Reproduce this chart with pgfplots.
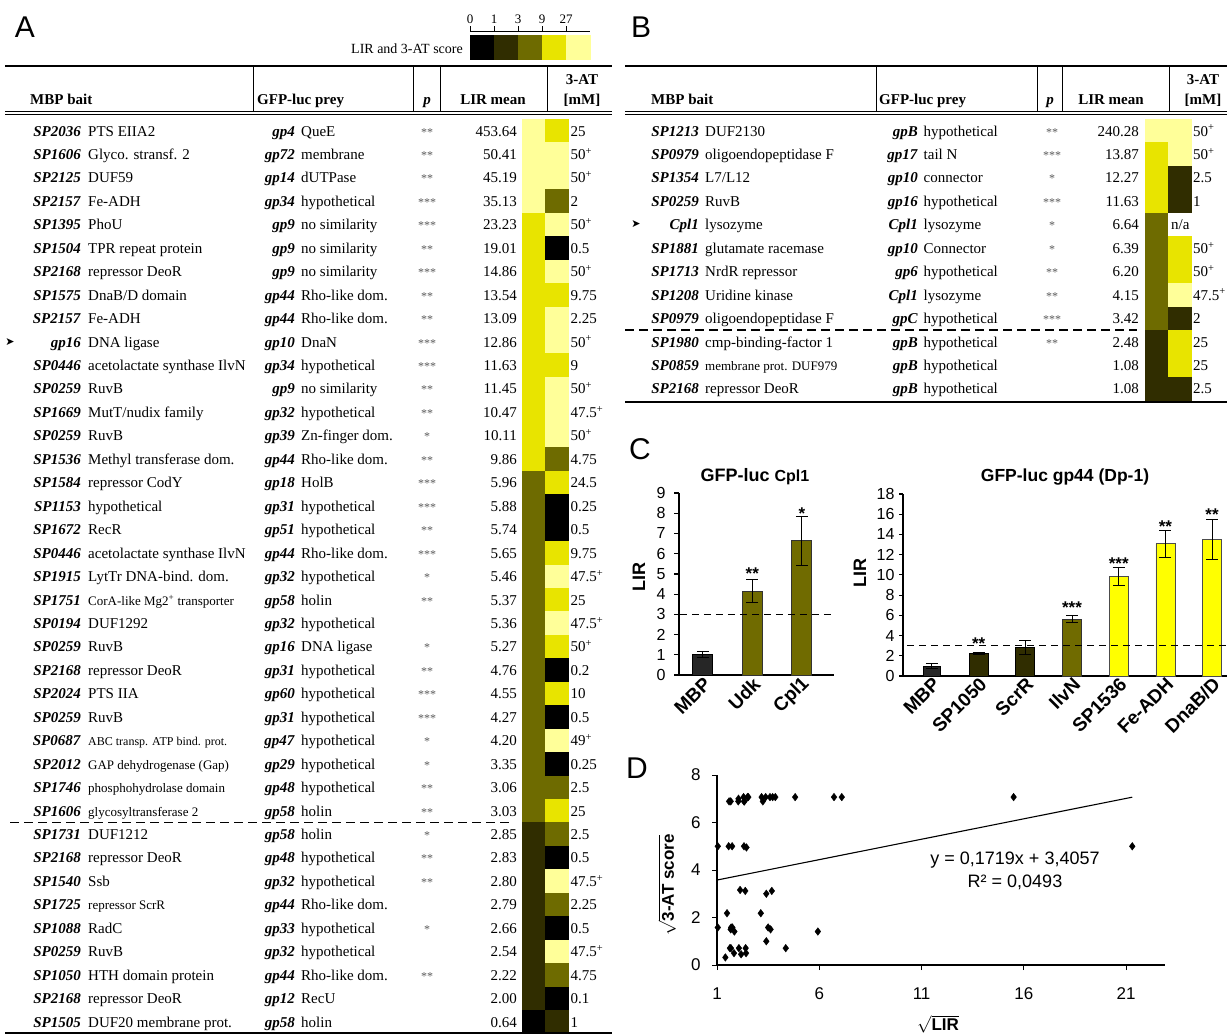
\documentclass[border=0pt]{standalone}
\usepackage{fontspec}
\setmainfont{Liberation Serif}
\newfontfamily\arial{Liberation Sans}
\newfontfamily\dejavu{DejaVu Sans}
\usepackage{pgfplots}
\pgfplotsset{compat=1.18}
\usepackage{pgfplotstable}

\definecolor{hk}{RGB}{0,0,0}
\definecolor{hd}{RGB}{48,45,0}
\definecolor{ho}{RGB}{110,107,0}
\definecolor{hy}{RGB}{232,228,0}
\definecolor{hp}{RGB}{255,255,153}
\definecolor{bary}{RGB}{255,255,0}
\definecolor{barg}{RGB}{38,38,38}
\definecolor{barol}{RGB}{112,107,0}
\definecolor{bardk}{RGB}{48,45,0}

\newcommand{\pl}{\textsuperscript{+}}
\newcommand{\sm}{\fontsize{13}{15}\selectfont}
\newcommand{\ssm}{\fontsize{12}{14}\selectfont}

\newcommand{\Trow}[8]{%
  \pgfmathsetmacro{\yy}{-(130.7+23.45*(#1-1)+5.3)}%
  \node[tt,anchor=base east] at (\cSP pt,\yy pt) {\textbf{\textit{#2}}};%
  \node[tt,anchor=base west] at (\cDE pt,\yy pt) {#3};%
  \node[tt,anchor=base east] at (\cGP pt,\yy pt) {\textbf{\textit{#4}}};%
  \node[tt,anchor=base west] at (\cGD pt,\yy pt) {#5};%
  \node[st,anchor=base] at (\cPP pt,\yy pt) {#6};%
  \node[tt,anchor=base east] at (\cLI pt,\yy pt) {#7};%
  \node[tt,anchor=base west] at (\cAT pt,\yy pt) {#8};%
}

\pgfplotsset{
  heat/.style={scatter, only marks, scatter src=explicit symbolic, mark size=11.5pt,
    scatter/classes={
      k={mark=square*,fill=hk,draw=hk},
      d={mark=square*,fill=hd,draw=hd},
      o={mark=square*,fill=ho,draw=ho},
      y={mark=square*,fill=hy,draw=hy},
      p={mark=square*,fill=hp,draw=hp},
      n={mark=square*,fill=white,draw=white}}},
  errb/.style={error bars/.cd, y dir=both, y explicit,
    error bar style={line width=1pt, black},
    error mark options={rotate=90, mark size=6pt, line width=1pt, black}},
}

% heat map codes: row, LIR class, 3-AT class
\pgfplotstableread{
r lir at
1 p y
2 p p
3 p p
4 p o
5 y p
6 y k
7 y p
8 y y
9 y p
10 y p
11 y y
12 y p
13 y p
14 y p
15 y o
16 o y
17 o k
18 o k
19 o y
20 o p
21 o y
22 o p
23 o y
24 o k
25 o y
26 o k
27 o p
28 o k
29 o o
30 o y
31 d o
32 d k
33 d p
34 d o
35 d k
36 d p
37 d o
38 d k
39 k d
}\tabA

\pgfplotstableread{
r lir at
1 p p
2 y p
3 y d
4 y d
5 o n
6 o y
7 o y
8 o p
9 o d
10 d y
11 d y
12 d d
}\tabB

\pgfplotstableread{
x c
0.5 k
1.5 d
2.5 o
3.5 y
4.5 p
}\tabLeg

% sqrt(LIR), sqrt(3-AT)
\pgfplotstableread{
x y
21.30 5.00
7.10 7.07
6.72 7.07
5.93 1.41
4.82 7.07
4.36 0.71
3.85 7.07
3.68 3.12
3.62 1.50
3.59 7.07
3.41 3.00
3.38 7.07
3.24 6.89
3.18 7.07
3.14 2.18
2.44 4.95
2.42 0.50
2.40 0.71
2.38 3.12
2.34 6.89
2.32 5.00
2.32 6.89
2.30 7.07
2.18 0.45
2.13 3.16
2.07 0.71
2.05 7.00
1.83 0.50
1.75 1.58
1.74 5.00
1.69 1.58
1.68 0.71
1.67 6.89
1.67 1.50
1.63 0.71
1.59 6.89
1.49 2.18
1.41 0.32
15.50 7.07
3.72 7.07
3.50 1.58
3.41 1.00
2.53 7.07
2.49 7.07
2.04 6.89
1.85 1.41
1.57 5.00
1.04 5.00
1.04 1.58
}\tabD

\begin{document}
\begin{tikzpicture}[
  tt/.style={font=\fontsize{15}{18}\selectfont, inner sep=0pt},
  hb/.style={font=\bfseries\fontsize{15}{18}\selectfont, inner sep=0pt},
  st/.style={font=\fontsize{12}{12}\selectfont, text=black!65, inner sep=0pt},
  star/.style={font=\arial\bfseries\fontsize{17}{17}\selectfont, anchor=base, yshift=-9.8pt, inner sep=0pt}]
\useasboundingbox (0,0) rectangle (1227pt,-1034pt);

% ---------------- Panel labels
\node[font=\arial\fontsize{30}{30}\selectfont] at (25pt,-27pt) {A};
\node[font=\arial\fontsize{30}{30}\selectfont] at (641pt,-27pt) {B};
\node[font=\arial\fontsize{30}{30}\selectfont] at (640pt,-449pt) {C};
\node[font=\arial\fontsize{30}{30}\selectfont] at (637pt,-768pt) {D};

% ---------------- Legend of A
\begin{axis}[at={(470pt,-60pt)}, anchor=south west, scale only axis, width=120pt, height=25pt,
  xmin=0, xmax=5, ymin=0, ymax=1, hide axis, clip=false]
\addplot[heat, mark size=12pt] table[x=x, y expr=0.5, meta=c] {\tabLeg};
\end{axis}
\draw[line width=0.8pt] (470pt,-31pt) -- (590pt,-31pt);
\foreach \xx/\lab in {470/0,494/1,518/3,542/9,566/27} {
  \draw[line width=0.8pt] (\xx pt,-31pt) -- (\xx pt,-26pt);
  \node[font=\fontsize{13}{13}\selectfont, anchor=base, inner sep=0pt] at (\xx pt,-23pt) {\lab};
}
\node[font=\fontsize{14}{14}\selectfont, anchor=base east, inner sep=0pt] at (463pt,-53pt) {LIR and 3-AT score};

% ---------------- Table A frame
\draw[line width=2.5pt] (5pt,-66pt) -- (612pt,-66pt);
\draw[line width=1pt] (5pt,-111.5pt) -- (612pt,-111.5pt);
\draw[line width=1pt] (5pt,-114.8pt) -- (612pt,-114.8pt);
\foreach \xx in {253,413,440,547} \draw[line width=1pt] (\xx pt,-67pt) -- (\xx pt,-111pt);
\node[hb,anchor=base west] at (30pt,-104pt) {MBP bait};
\node[hb,anchor=base west] at (257pt,-104pt) {GFP-luc prey};
\node[hb,anchor=base] at (427pt,-104pt) {\textit{p}};
\node[hb,anchor=base] at (493pt,-104pt) {LIR mean};
\node[hb,anchor=base] at (582pt,-84pt) {3-AT};
\node[hb,anchor=base] at (582pt,-104pt) {[mM]};
\draw[line width=1.6pt, dash pattern=on 9pt off 5pt] (10pt,-822.5pt) -- (513pt,-822.5pt);

% heat map A
\begin{axis}[at={(522pt,-1033.5pt)}, anchor=south west, scale only axis, width=46pt, height=914.55pt,
  xmin=0, xmax=2, ymin=0.5, ymax=39.5, y dir=reverse, hide axis, clip=false]
\addplot[heat] table[x expr=0.5, y=r, meta=lir] {\tabA};
\addplot[heat] table[x expr=1.5, y=r, meta=at] {\tabA};
\end{axis}
\draw[line width=2.5pt] (5pt,-1033pt) -- (612pt,-1033pt);

\def\cSP{81}\def\cDE{88}\def\cGP{295}\def\cGD{301}\def\cPP{427}\def\cLI{517}\def\cAT{570.5}
\Trow{1}{SP2036}{PTS EIIA2}{gp4}{QueE}{**}{453.64}{25}
\Trow{2}{SP1606}{Glyco. stransf. 2}{gp72}{membrane}{**}{50.41}{50\pl}
\Trow{3}{SP2125}{DUF59}{gp14}{dUTPase}{**}{45.19}{50\pl}
\Trow{4}{SP2157}{Fe-ADH}{gp34}{hypothetical}{***}{35.13}{2}
\Trow{5}{SP1395}{PhoU}{gp9}{no similarity}{***}{23.23}{50\pl}
\Trow{6}{SP1504}{TPR repeat protein}{gp9}{no similarity}{**}{19.01}{0.5}
\Trow{7}{SP2168}{repressor DeoR}{gp9}{no similarity}{***}{14.86}{50\pl}
\Trow{8}{SP1575}{DnaB/D domain}{gp44}{Rho-like dom.}{**}{13.54}{9.75}
\Trow{9}{SP2157}{Fe-ADH}{gp44}{Rho-like dom.}{**}{13.09}{2.25}
\Trow{10}{gp16}{DNA ligase}{gp10}{DnaN}{***}{12.86}{50\pl}
\Trow{11}{SP0446}{acetolactate synthase IlvN}{gp34}{hypothetical}{***}{11.63}{9}
\Trow{12}{SP0259}{RuvB}{gp9}{no similarity}{**}{11.45}{50\pl}
\Trow{13}{SP1669}{MutT/nudix family}{gp32}{hypothetical}{**}{10.47}{47.5\pl}
\Trow{14}{SP0259}{RuvB}{gp39}{Zn-finger dom.}{*}{10.11}{50\pl}
\Trow{15}{SP1536}{Methyl transferase dom.}{gp44}{Rho-like dom.}{**}{9.86}{4.75}
\Trow{16}{SP1584}{repressor CodY}{gp18}{HolB}{***}{5.96}{24.5}
\Trow{17}{SP1153}{hypothetical}{gp31}{hypothetical}{***}{5.88}{0.25}
\Trow{18}{SP1672}{RecR}{gp51}{hypothetical}{**}{5.74}{0.5}
\Trow{19}{SP0446}{acetolactate synthase IlvN}{gp44}{Rho-like dom.}{***}{5.65}{9.75}
\Trow{20}{SP1915}{LytTr DNA-bind. dom.}{gp32}{hypothetical}{*}{5.46}{47.5\pl}
\Trow{21}{SP1751}{\sm CorA-like Mg2\textsuperscript{+} transporter}{gp58}{holin}{**}{5.37}{25}
\Trow{22}{SP0194}{DUF1292}{gp32}{hypothetical}{}{5.36}{47.5\pl}
\Trow{23}{SP0259}{RuvB}{gp16}{DNA ligase}{*}{5.27}{50\pl}
\Trow{24}{SP2168}{repressor DeoR}{gp31}{hypothetical}{**}{4.76}{0.2}
\Trow{25}{SP2024}{PTS IIA}{gp60}{hypothetical}{***}{4.55}{10}
\Trow{26}{SP0259}{RuvB}{gp31}{hypothetical}{***}{4.27}{0.5}
\Trow{27}{SP0687}{\ssm ABC transp. ATP bind. prot.}{gp47}{hypothetical}{*}{4.20}{49\pl}
\Trow{28}{SP2012}{\sm GAP dehydrogenase (Gap)}{gp29}{hypothetical}{*}{3.35}{0.25}
\Trow{29}{SP1746}{\sm phosphohydrolase domain}{gp48}{hypothetical}{**}{3.06}{2.5}
\Trow{30}{SP1606}{\sm glycosyltransferase 2}{gp58}{holin}{**}{3.03}{25}
\Trow{31}{SP1731}{DUF1212}{gp58}{holin}{*}{2.85}{2.5}
\Trow{32}{SP2168}{repressor DeoR}{gp48}{hypothetical}{**}{2.83}{0.5}
\Trow{33}{SP1540}{Ssb}{gp32}{hypothetical}{**}{2.80}{47.5\pl}
\Trow{34}{SP1725}{\sm repressor ScrR}{gp44}{Rho-like dom.}{}{2.79}{2.25}
\Trow{35}{SP1088}{RadC}{gp33}{hypothetical}{*}{2.66}{0.5}
\Trow{36}{SP0259}{RuvB}{gp32}{hypothetical}{}{2.54}{47.5\pl}
\Trow{37}{SP1050}{HTH domain protein}{gp44}{Rho-like dom.}{**}{2.22}{4.75}
\Trow{38}{SP2168}{repressor DeoR}{gp12}{RecU}{}{2.00}{0.1}
\Trow{39}{SP1505}{DUF20 membrane prot.}{gp58}{holin}{}{0.64}{1}
\node[font=\dejavu\fontsize{11}{11}\selectfont, inner sep=0pt] at (10pt,-341.8pt) {➤};

% ---------------- Table B frame
\draw[line width=2.5pt] (625pt,-66pt) -- (1227pt,-66pt);
\draw[line width=1pt] (625pt,-111.5pt) -- (1227pt,-111.5pt);
\draw[line width=1pt] (625pt,-114.8pt) -- (1227pt,-114.8pt);
\foreach \xx in {876,1037,1062,1169} \draw[line width=1pt] (\xx pt,-67pt) -- (\xx pt,-111pt);
\node[hb,anchor=base west] at (651pt,-104pt) {MBP bait};
\node[hb,anchor=base west] at (879pt,-104pt) {GFP-luc prey};
\node[hb,anchor=base] at (1050pt,-104pt) {\textit{p}};
\node[hb,anchor=base] at (1111pt,-104pt) {LIR mean};
\node[hb,anchor=base] at (1203pt,-84pt) {3-AT};
\node[hb,anchor=base] at (1203pt,-104pt) {[mM]};

\begin{axis}[at={(1145pt,-400.4pt)}, anchor=south west, scale only axis, width=46pt, height=281.4pt,
  xmin=0, xmax=2, ymin=0.5, ymax=12.5, y dir=reverse, hide axis, clip=false]
\addplot[heat] table[x expr=0.5, y=r, meta=lir] {\tabB};
\addplot[heat] table[x expr=1.5, y=r, meta=at] {\tabB};
\end{axis}
\draw[line width=2.5pt] (625pt,-402pt) -- (1227pt,-402pt);
\draw[line width=1.6pt, dash pattern=on 9pt off 5pt] (625pt,-330pt) -- (1137pt,-330pt);

\def\cSP{699}\def\cDE{705}\def\cGP{918}\def\cGD{923.5}\def\cPP{1052}\def\cLI{1139}\def\cAT{1193}
\Trow{1}{SP1213}{DUF2130}{gpB}{hypothetical}{**}{240.28}{50\pl}
\Trow{2}{SP0979}{oligoendopeptidase F}{gp17}{tail N}{***}{13.87}{50\pl}
\Trow{3}{SP1354}{L7/L12}{gp10}{connector}{*}{12.27}{2.5}
\Trow{4}{SP0259}{RuvB}{gp16}{hypothetical}{***}{11.63}{1}
\Trow{5}{Cpl1}{lysozyme}{Cpl1}{lysozyme}{*}{6.64}{}
\Trow{6}{SP1881}{glutamate racemase}{gp10}{Connector}{*}{6.39}{50\pl}
\Trow{7}{SP1713}{NrdR repressor}{gp6}{hypothetical}{**}{6.20}{50\pl}
\Trow{8}{SP1208}{Uridine kinase}{Cpl1}{lysozyme}{**}{4.15}{47.5\pl}
\Trow{9}{SP0979}{oligoendopeptidase F}{gpC}{hypothetical}{***}{3.42}{2}
\Trow{10}{SP1980}{cmp-binding-factor 1}{gpB}{hypothetical}{**}{2.48}{25}
\Trow{11}{SP0859}{\sm membrane prot. DUF979}{gpB}{hypothetical}{}{1.08}{25}
\Trow{12}{SP2168}{repressor DeoR}{gpB}{hypothetical}{}{1.08}{2.5}
\node[tt,anchor=base west] at (1171pt,-229.8pt) {n/a};
\node[font=\dejavu\fontsize{11}{11}\selectfont, inner sep=0pt] at (636pt,-224.5pt) {➤};

% ---------------- Panel C left
\node[font=\arial\bfseries\fontsize{18}{18}\selectfont, anchor=base, inner sep=0pt] at (755pt,-481pt) {GFP-luc {\fontsize{16}{16}\selectfont Cpl1}};
\node[font=\arial\bfseries\fontsize{18}{18}\selectfont, rotate=90, inner sep=0pt] at (639pt,-577pt) {LIR};
\begin{axis}[at={(679pt,-675pt)}, anchor=south west, scale only axis, width=155pt, height=182pt,
  xmin=-0.48, xmax=2.65, ymin=0, ymax=9,
  axis lines=left, axis line style={-, line width=1.6pt},
  ytick={0,1,...,9}, xtick={0,1,2}, xticklabels={MBP,Udk,Cpl1},
  tick align=outside, major tick length=5pt,
  ytick style={line width=1.2pt, black}, xtick style={draw=none},
  /pgf/number format/assume math mode=true,
  yticklabel style={font=\arial\fontsize{16}{16}\selectfont, xshift=-5pt},
  xticklabel style={font=\arial\bfseries\fontsize{19}{19}\selectfont, rotate=45, anchor=east, xshift=6pt, yshift=-4pt},
  clip=false]
\addplot[ybar, bar width=20pt, bar shift=0pt, fill=barg, draw=black, line width=0.7pt, errb] coordinates {(0,1.00) +- (0,0.14)};
\addplot[ybar, bar width=20pt, bar shift=0pt, fill=barol, draw=black!80, line width=0.7pt, errb] coordinates {(1,4.15) +- (0,0.55) (2,6.64) +- (0,1.20)};
\addplot[line width=1.5pt, dash pattern=on 7pt off 5pt] coordinates {(-0.46,3) (2.65,3)};
\node[star] at (axis cs:1,5.23) {**};
\node[star] at (axis cs:2,8.16) {*};
\end{axis}

% ---------------- Panel C right
\node[font=\arial\bfseries\fontsize{17.5}{18}\selectfont, anchor=base, inner sep=0pt] at (1065pt,-481pt) {GFP-luc gp44 (Dp-1)};
\node[font=\arial\bfseries\fontsize{18}{18}\selectfont, rotate=90, inner sep=0pt] at (860pt,-573pt) {LIR};
\begin{axis}[at={(903pt,-676pt)}, anchor=south west, scale only axis, width=324pt, height=182pt,
  xmin=-0.62, xmax=6.32, ymin=0, ymax=18,
  axis lines=left, axis line style={-, line width=1.6pt},
  ytick={0,2,...,18}, xtick={0,...,6}, xticklabels={MBP,SP1050,ScrR,IlvN,SP1536,Fe-ADH,DnaB/D},
  tick align=outside, major tick length=4pt,
  ytick style={line width=1.2pt, black}, xtick style={draw=none},
  /pgf/number format/assume math mode=true,
  yticklabel style={font=\arial\fontsize{16}{16}\selectfont, xshift=-1pt},
  xticklabel style={font=\arial\bfseries\fontsize{19}{19}\selectfont, rotate=45, anchor=east, xshift=6pt, yshift=-4pt},
  clip=false]
\addplot[ybar, bar width=17pt, bar shift=0pt, fill=barg, draw=black, line width=0.7pt, errb] coordinates {(0,1.00) +- (0,0.22)};
\addplot[ybar, bar width=19pt, bar shift=0pt, fill=bardk, draw=black, line width=0.7pt, errb] coordinates {(1,2.22) +- (0,0.10) (2,2.79) +- (0,0.70)};
\addplot[ybar, bar width=19pt, bar shift=0pt, fill=barol, draw=black!80, line width=0.7pt, errb] coordinates {(3,5.65) +- (0,0.36)};
\addplot[ybar, bar width=19pt, bar shift=0pt, fill=bary, draw=black!70, line width=0.7pt, errb] coordinates {(4,9.86) +- (0,0.86) (5,13.09) +- (0,1.32) (6,13.54) +- (0,1.98)};
\addplot[line width=1.5pt, dash pattern=on 7pt off 5pt] coordinates {(-0.53,3) (6.32,3)};
\node[star] at (axis cs:1,3.63) {**};
\node[star] at (axis cs:3,7.13) {***};
\node[star] at (axis cs:4,11.55) {***};
\node[star] at (axis cs:5,15.18) {**};
\node[star] at (axis cs:6,16.33) {**};
\end{axis}

% ---------------- Panel D
\begin{axis}[at={(717pt,-965pt)}, anchor=south west, scale only axis, width=448pt, height=190pt,
  xmin=1, xmax=22.9, ymin=0, ymax=8,
  axis lines=left, axis line style={-, line width=1.1pt},
  xtick={1,6,11,16,21}, ytick={0,2,4,6,8},
  tick align=outside, major tick length=5pt, tick style={line width=1pt, black},
  /pgf/number format/assume math mode=true,
  ticklabel style={font=\arial\fontsize{17}{17}\selectfont},
  xticklabel style={yshift=-14pt}, yticklabel style={xshift=-8pt},
  clip=false]
\addplot[only marks, mark=diamond*, mark size=3.8pt, black] table[x=x, y=y] {\tabD};
\addplot[line width=1.1pt, black] coordinates {(1,3.5776) (21.3,7.0672)};
\end{axis}
\node[font=\arial\fontsize{18}{18}\selectfont, inner sep=0pt] at (1015pt,-860pt) {y = 0,1719x + 3,4057};
\node[font=\arial\fontsize{18}{18}\selectfont, inner sep=0pt] at (1015pt,-882pt) {R² = 0,0493};
\node[font=\arial\bfseries\fontsize{17}{17}\selectfont, rotate=90, inner sep=0pt] at (667pt,-885pt) {$\sqrt{\mbox{3-AT score}}$};
\node[font=\arial\bfseries\fontsize{17}{17}\selectfont, inner sep=0pt] at (938pt,-1024pt) {$\sqrt{\mbox{LIR}}$};
\end{tikzpicture}
\end{document}
